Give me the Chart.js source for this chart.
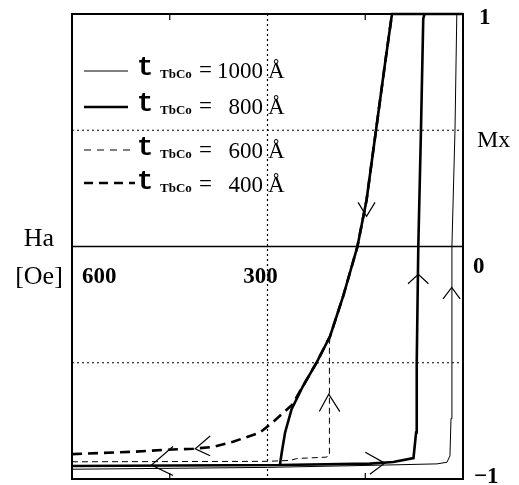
<!DOCTYPE html>
<html>
<head>
<meta charset="utf-8">
<script src="https://cdn.jsdelivr.net/npm/chart.js@4"></script>
<style>
  body { margin: 0; background: #fff; }
  canvas { display: block; }
</style>
</head>
<body>
<canvas id="loopChart" width="519" height="485"></canvas>
<script>
// Data (Ha in Oe, x axis runs 600 -> 0; Mx from -1 to 1)
const thicknesses = ['1000', '800', '600', '400'];

const x1000 = [600, 300, 120, 40, 24.6, 20, 18.4, 17, 12.3, 9.5, 0];
const y1000 = [-0.958, -0.95, -0.94, -0.935, -0.928, -0.9, -0.74, 0, 0.5, 1, 1];

// steep switching branch (top -> bottom), shared by 800 / 600 / 400
const steepX = [109, 120, 133.5, 148, 162, 184, 204, 224.5, 245.5, 263, 273, 278, 281];
const steepY = [1, 0.78, 0.5, 0.2, 0, -0.215, -0.386, -0.498, -0.6, -0.7, -0.8, -0.884, -0.94];

const x800 = [600, 281, 143, 107, 76, 72, 71, 68.6, 64.5, 61, 59, 0, 109];
const y800 = [-0.944, -0.94, -0.934, -0.927, -0.91, -0.8, -0.5, 0, 0.5, 0.98, 1, 1, 1];

const x600 = [600, 300, 265, 255, 210, 205, 205];
const y600 = [-0.926, -0.924, -0.92, -0.912, -0.906, -0.9, -0.42];

const x400 = [600, 506, 454, 414, 384, 353, 311.5, 291.6, 262, 245.5];
const y400 = [-0.893, -0.883, -0.874, -0.87, -0.862, -0.84, -0.8, -0.755, -0.68, -0.6];

// arrow heads (three points each: arm, tip, arm)
const arrowX = [
  [30.6, 17.3, 4.5],
  [84.4, 68.6, 53],
  [161, 148, 135],
  [220.5, 206, 189],
  [388, 411, 388],
  [445, 478, 445],
  [150, 120, 143]
];
const arrowY = [
  [-0.225, -0.176, -0.225],
  [-0.16, -0.12, -0.16],
  [0.19, 0.13, 0.19],
  [-0.71, -0.635, -0.71],
  [-0.815, -0.87, -0.9],
  [-0.86, -0.94, -0.985],
  [-0.885, -0.932, -0.98]
];

// axis labels
const xTickValues = [600, 300, 0];
const xTickLabels = ['600', '300', '0'];
const yTickValues = [1, -1];
const yTickLabels = ['1', '\u22121'];
const xMinorTicks = [450, 150];

function pts(xs, ys) {
  return xs.map((x, i) => ({ x: x, y: ys[i] }));
}

// the switching part of the steep branch, walked upward from a given field
function steepUpFrom(limit) {
  const out = [];
  for (let i = steepX.length - 1; i >= 0; i--) {
    if (steepX[i] <= limit) out.push({ x: steepX[i], y: steepY[i] });
  }
  return out;
}

const branch800 = pts(x800, y800).concat(pts(steepX, steepY));
const branch600 = pts(x600, y600).concat(steepUpFrom(204));
const branch400 = pts(x400, y400).concat(steepUpFrom(230));

const styles = [
  { width: 1, dash: [] },
  { width: 2.6, dash: [] },
  { width: 1, dash: [6, 4] },
  { width: 2.6, dash: [10, 6] }
];

const datasets = [
  { data: pts(x1000, y1000), borderWidth: styles[0].width, borderDash: styles[0].dash },
  { data: branch800, borderWidth: styles[1].width, borderDash: styles[1].dash },
  { data: branch600, borderWidth: styles[2].width, borderDash: styles[2].dash },
  { data: branch400, borderWidth: styles[3].width, borderDash: styles[3].dash }
];
arrowX.forEach((ax, i) => {
  datasets.push({ data: pts(ax, arrowY[i]), borderWidth: 1.2, borderDash: [] });
});
datasets.forEach(d => {
  d.showLine = true;
  d.pointRadius = 0;
  d.borderColor = '#000';
  d.tension = 0;
  d.clip = 6;
});

const framePlugin = {
  id: 'frame',
  beforeDatasetsDraw(chart) {
    const { ctx, chartArea: a, scales: { x, y } } = chart;
    ctx.save();
    ctx.strokeStyle = '#000';
    // dotted grid
    ctx.lineWidth = 1.2;
    ctx.setLineDash([2, 3]);
    ctx.beginPath();
    const gx = x.getPixelForValue(300);
    ctx.moveTo(gx, a.top); ctx.lineTo(gx, a.bottom);
    [0.5, -0.5].forEach(v => {
      const gy = y.getPixelForValue(v);
      ctx.moveTo(a.left, gy); ctx.lineTo(a.right, gy);
    });
    ctx.stroke();
    // solid zero line
    ctx.setLineDash([]);
    ctx.lineWidth = 1.5;
    ctx.beginPath();
    const zy = y.getPixelForValue(0);
    ctx.moveTo(a.left, zy); ctx.lineTo(a.right, zy);
    ctx.stroke();
    ctx.restore();
  },
  afterDraw(chart) {
    const { ctx, chartArea: a, scales: { x, y } } = chart;
    ctx.save();
    ctx.strokeStyle = '#000';
    ctx.fillStyle = '#000';
    ctx.lineWidth = 2;
    ctx.strokeRect(a.left, a.top, a.right - a.left, a.bottom - a.top);

    // minor ticks top/bottom
    ctx.lineWidth = 1.2;
    ctx.beginPath();
    xMinorTicks.forEach(v => {
      const px = x.getPixelForValue(v);
      ctx.moveTo(px, a.top); ctx.lineTo(px, a.top + 6);
      ctx.moveTo(px, a.bottom); ctx.lineTo(px, a.bottom - 6);
    });
    ctx.stroke();

    // x tick labels
    ctx.font = 'bold 23px "Liberation Serif", serif';
    ctx.textBaseline = 'alphabetic';
    const zy = y.getPixelForValue(0);
    xTickValues.forEach((v, i) => {
      const px = x.getPixelForValue(v);
      if (v === 600) {
        ctx.textAlign = 'left';
        ctx.fillText(xTickLabels[i], px + 10, zy + 36);
      } else if (v === 0) {
        ctx.textAlign = 'left';
        ctx.fillText(xTickLabels[i], px + 10, zy + 26);
      } else {
        ctx.textAlign = 'center';
        ctx.fillText(xTickLabels[i], px - 7, zy + 36);
      }
    });
    // y tick labels (right side)
    ctx.textAlign = 'left';
    yTickValues.forEach((v, i) => {
      const py = y.getPixelForValue(v);
      ctx.fillText(yTickLabels[i], a.right + (v > 0 ? 16 : 11), py + (v > 0 ? 10 : 4));
    });

    // axis titles
    ctx.font = '24px "Liberation Serif", serif';
    ctx.fillText('Mx', a.right + 14, y.getPixelForValue(0.5) + 17);
    ctx.font = '26px "Liberation Serif", serif';
    ctx.textAlign = 'center';
    ctx.fillText('Ha', 39, zy - 1);
    ctx.fillText('[Oe]', 39, zy + 37);

    // legend
    const rows = [
      { line: 71, base: 78 },
      { line: 107, base: 114 },
      { line: 150, base: 158 },
      { line: 183, base: 192 }
    ];
    thicknesses.forEach((t, i) => {
      const r = rows[i];
      ctx.lineWidth = styles[i].width;
      ctx.setLineDash(i === 2 ? [7, 6] : (i === 3 ? [9, 6] : []));
      ctx.beginPath();
      ctx.moveTo(84, r.line);
      ctx.lineTo(i >= 2 ? 135 : 128, r.line);
      ctx.stroke();
      ctx.setLineDash([]);
      ctx.textAlign = 'left';
      ctx.font = 'bold 27px "Liberation Mono", monospace';
      ctx.fillText('t', 137, r.base - 3);
      ctx.font = 'bold 13px "Liberation Serif", serif';
      ctx.fillText('TbCo', 160, r.base);
      ctx.font = '23px "Liberation Serif", serif';
      ctx.fillText('=', 199, r.base - 1);
      ctx.textAlign = 'right';
      ctx.fillText(t, 263, r.base);
      ctx.textAlign = 'left';
      ctx.fillText('\u00C5', 268, r.base);
    });
    ctx.restore();
  }
};

const ctx = document.getElementById('loopChart').getContext('2d');
const loopChart = new Chart(ctx, {
  type: 'scatter',
  data: { datasets: datasets },
  options: {
    responsive: false,
    animation: false,
    layout: { padding: { left: 72, right: 56, top: 14, bottom: 6 } },
    plugins: { legend: { display: false }, tooltip: { enabled: false } },
    scales: {
      x: { type: 'linear', min: 0, max: 600, reverse: true, display: false },
      y: { type: 'linear', min: -1, max: 1, display: false }
    }
  },
  plugins: [framePlugin]
});
</script>
</body>
</html>
